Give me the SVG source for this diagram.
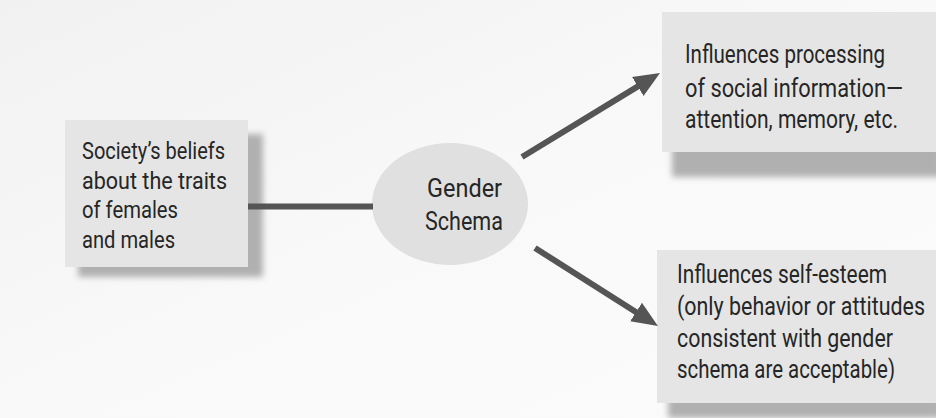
<svg xmlns="http://www.w3.org/2000/svg" width="936" height="418" viewBox="0 0 936 418">
  <defs>
    <filter id="blur" x="-10%" y="-10%" width="120%" height="130%">
      <feGaussianBlur stdDeviation="3"/>
    </filter>
    <marker id="arrow" markerUnits="userSpaceOnUse" markerWidth="30" markerHeight="26" viewBox="0 -13 30 26" refX="4" refY="0" orient="auto">
      <path d="M0,-11 L26,0 L0,11 z" fill="#555"/>
    </marker>
    <linearGradient id="bg" x1="0" y1="0" x2="1" y2="1">
      <stop offset="0" stop-color="#f1f1f1"/>
      <stop offset="0.5" stop-color="#f9f9f9"/>
      <stop offset="1" stop-color="#fbfbfb"/>
    </linearGradient>
  </defs>
  <style>
    .box { fill: #e5e5e5; }
    .shadow { fill: #b0b0b0; filter: url(#blur); }
    .lbl { font-family: Roboto, "Liberation Sans", sans-serif; fill: #262626; }
    .small { font-size: 24px; }
    .mid { font-size: 25px; }
    .big { font-size: 26px; }
    .conn { stroke: #555; stroke-width: 6; fill: none; }
  </style>
  <rect x="0" y="0" width="936" height="418" fill="url(#bg)"/>

  <g id="node-society">
    <rect class="shadow" x="78" y="134" width="185" height="143"/>
    <rect class="box" x="65" y="120" width="183" height="147"/>
    <text class="lbl small" transform="translate(82,159) scale(0.8,1)" textLength="178.8" lengthAdjust="spacingAndGlyphs">Society’s beliefs</text>
    <text class="lbl small" transform="translate(82,189) scale(0.8,1)" textLength="181.3" lengthAdjust="spacingAndGlyphs">about the traits</text>
    <text class="lbl small" transform="translate(82,218) scale(0.8,1)" textLength="120" lengthAdjust="spacingAndGlyphs">of females</text>
    <text class="lbl small" transform="translate(82,248) scale(0.8,1)" textLength="116.3" lengthAdjust="spacingAndGlyphs">and males</text>
  </g>

  <g id="node-schema">
    <ellipse cx="450" cy="204" rx="78" ry="61" fill="#e0e0e0"/>
    <text class="lbl mid" transform="translate(427,197) scale(0.8,1)" textLength="93.8" lengthAdjust="spacingAndGlyphs">Gender</text>
    <text class="lbl mid" transform="translate(425,230) scale(0.8,1)" textLength="97.5" lengthAdjust="spacingAndGlyphs">Schema</text>
  </g>

  <g id="node-processing">
    <rect class="shadow" x="672" y="30" width="270" height="147"/>
    <rect class="box" x="662" y="12" width="274" height="140"/>
    <text class="lbl big" transform="translate(685,63) scale(0.8,1)" textLength="250" lengthAdjust="spacingAndGlyphs">Influences processing</text>
    <text class="lbl big" transform="translate(685,97) scale(0.8,1)" textLength="272.5" lengthAdjust="spacingAndGlyphs">of social information—</text>
    <text class="lbl big" transform="translate(685,128) scale(0.8,1)" textLength="266.3" lengthAdjust="spacingAndGlyphs">attention, memory, etc.</text>
  </g>

  <g id="node-selfesteem">
    <rect class="shadow" x="668" y="266" width="274" height="152"/>
    <rect class="box" x="657" y="250" width="279" height="153"/>
    <text class="lbl big" transform="translate(677,283) scale(0.8,1)" textLength="262.5" lengthAdjust="spacingAndGlyphs">Influences self-esteem</text>
    <text class="lbl big" transform="translate(677,315) scale(0.8,1)" textLength="310" lengthAdjust="spacingAndGlyphs">(only behavior or attitudes</text>
    <text class="lbl big" transform="translate(677,347) scale(0.8,1)" textLength="270" lengthAdjust="spacingAndGlyphs">consistent with gender</text>
    <text class="lbl big" transform="translate(677,378) scale(0.8,1)" textLength="272.5" lengthAdjust="spacingAndGlyphs">schema are acceptable)</text>
  </g>

  <g id="connectors">
    <line class="conn" x1="248" y1="206.5" x2="373" y2="206.5"/>
    <line class="conn" x1="522" y1="157" x2="641.2" y2="84.4" marker-end="url(#arrow)"/>
    <line class="conn" x1="535" y1="248" x2="639.4" y2="314.2" marker-end="url(#arrow)"/>
  </g>
</svg>
